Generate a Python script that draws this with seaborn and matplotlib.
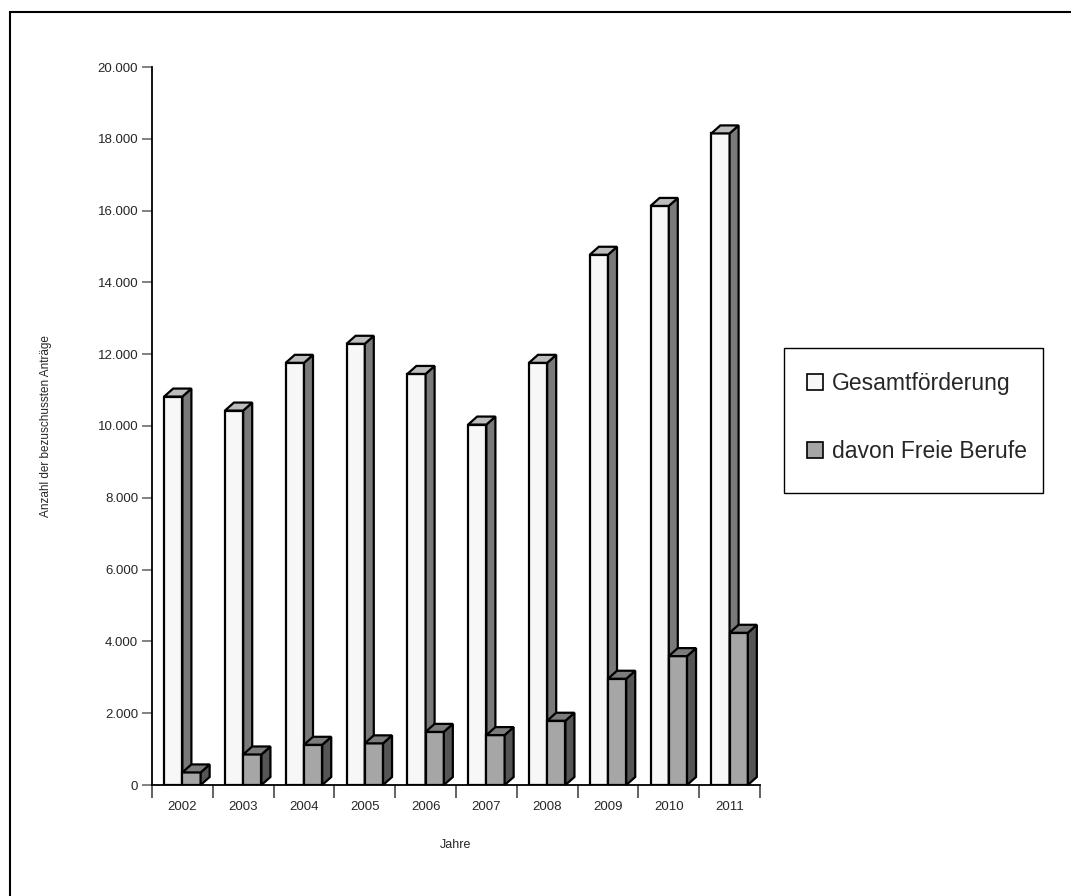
import matplotlib
matplotlib.use("Agg")
import matplotlib.pyplot as plt
import seaborn as sns
import pandas as pd
from matplotlib.patches import Polygon, Rectangle, Patch
from matplotlib.ticker import FuncFormatter, FixedLocator

# Bezuschusste Anträge je Jahr
years = ["2002", "2003", "2004", "2005", "2006", "2007", "2008", "2009", "2010", "2011"]
gesamt = [10820, 10430, 11760, 12290, 11450, 10040, 11760, 14770, 16130, 18150]
freie_berufe = [350, 850, 1120, 1160, 1480, 1390, 1790, 2960, 3590, 4240]
series_names = ["Gesamtförderung", "davon Freie Berufe"]

df = pd.DataFrame({
    "Jahr": years * 2,
    "Anzahl": gesamt + freie_berufe,
    "Reihe": [series_names[0]] * len(years) + [series_names[1]] * len(years),
})

# front / side / top shades for the pseudo-3D columns
front = {series_names[0]: "#f7f7f7", series_names[1]: "#a6a6a6"}
side = {series_names[0]: "#7a7a7a", series_names[1]: "#555555"}
top = {series_names[0]: "#bdbdbd", series_names[1]: "#7c7c7c"}

sns.set_style("white")
plt.rcParams["font.family"] = ["Liberation Sans", "DejaVu Sans"]

W, H = 1071, 896
fig = plt.figure(figsize=(W / 100, H / 100), dpi=100)
ax = fig.add_axes([152 / W, 1 - 785 / H, 608 / W, 718 / H])

sns.barplot(data=df, x="Jahr", y="Anzahl", hue="Reihe", order=years,
            hue_order=series_names, palette=front, width=0.6,
            edgecolor="black", linewidth=1.6, saturation=1, legend=False, ax=ax)

ax.set_xlim(-0.5, 9.5)
ax.set_ylim(0, 20000)

# depth of the columns in data units (about 9 px right, 8 px up)
dx = 0.148
dy = 8 / (718 / 20000)

n = len(years)
for k, patch in enumerate(ax.patches[:2 * n]):
    name = series_names[k // n]
    base_z = 2 + 2 * (k // n)
    patch.set_zorder(base_z)
    x0 = patch.get_x()
    w = patch.get_width()
    h = patch.get_height()
    x1 = x0 + w
    side_poly = Polygon([(x1, 0), (x1 + dx, dy), (x1 + dx, h + dy), (x1, h)],
                        closed=True, facecolor=side[name], edgecolor="black",
                        linewidth=1.6, zorder=base_z + 0.5, clip_on=False)
    top_poly = Polygon([(x0, h), (x0 + dx, h + dy), (x1 + dx, h + dy), (x1, h)],
                       closed=True, facecolor=top[name], edgecolor="black",
                       linewidth=1.6, zorder=base_z + 0.5, clip_on=False)
    ax.add_patch(side_poly)
    ax.add_patch(top_poly)

# axes styling
for s in ["top", "right"]:
    ax.spines[s].set_visible(False)
ax.spines["left"].set_color("black")
ax.spines["left"].set_linewidth(1.3)
ax.spines["bottom"].set_color("black")
ax.spines["bottom"].set_linewidth(1.3)

ax.set_yticks(range(0, 20001, 2000))
ax.yaxis.set_major_formatter(FuncFormatter(lambda v, p: f"{int(v):,}".replace(",", ".")))
ax.tick_params(axis="y", which="major", left=True, length=7, width=1.3,
               color="#777777", labelsize=9.5, pad=3)
ax.tick_params(axis="x", which="major", bottom=False, labelsize=9.5, pad=8)
ax.xaxis.set_minor_locator(FixedLocator([i - 0.5 for i in range(n + 1)]))
ax.tick_params(axis="x", which="minor", bottom=True, length=9, width=1.3,
               color="#555555")

ax.set_xlabel("Jahre", fontsize=9, labelpad=19)
ax.set_ylabel("Anzahl der bezuschussten Anträge", fontsize=8.5, labelpad=33)
ax.grid(False)

# legend on the right with its own frame
fig.patches.append(Rectangle((784 / W, 1 - 493 / H), 259 / W, 145 / H,
                             transform=fig.transFigure, fill=True,
                             facecolor="white", edgecolor="black", linewidth=1.0))
handles = [Patch(facecolor=front[s], edgecolor="black", linewidth=1.2) for s in series_names]
leg = fig.legend(handles, series_names, loc="center",
                 bbox_to_anchor=(917 / W, 1 - 417.5 / H),
                 fontsize=16.5, frameon=False,
                 handlelength=0.7, handleheight=0.7, handletextpad=0.4,
                 labelspacing=1.95, borderpad=0)

# outer frame of the chart area
fig.patches.append(Rectangle((10 / W, -0.05), 1.2, 1 - 12 / H + 0.05,
                             transform=fig.transFigure, fill=False,
                             edgecolor="black", linewidth=1.5))

fig.savefig("out.png", dpi=100)
